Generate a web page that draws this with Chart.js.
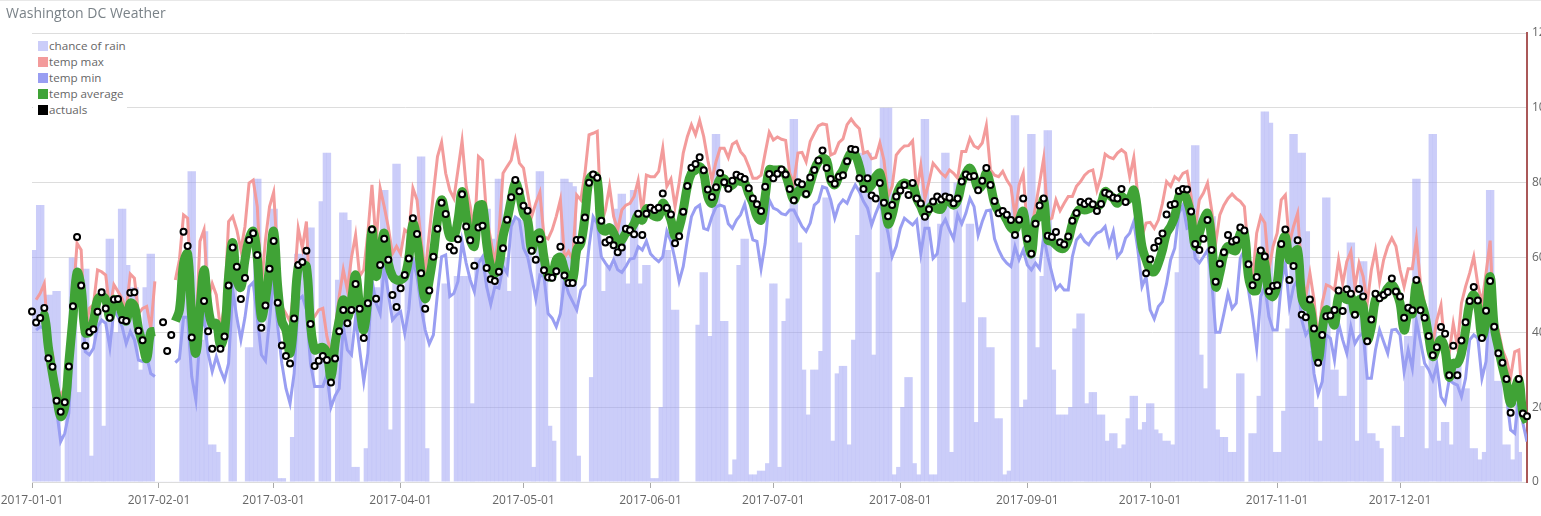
<!DOCTYPE html>
<html>
<head>
<meta charset="utf-8">
<title>Washington DC Weather</title>
<script src="https://cdn.jsdelivr.net/npm/chart.js@4"></script>
<style>
    html, body { margin: 0; padding: 0; background: #fff; overflow: hidden; }
    #wrap { position: relative; width: 1541px; height: 516px; font-family: 'Open Sans', sans-serif; }
    #wrap::before { content: ''; position: absolute; left: 0; right: 0; top: 0; height: 1px; background: #e8e8e8; }
    #title { position: absolute; left: 6px; top: 3px; font-size: 14px; line-height: 20px; color: #7a8288; }
    #legend { position: absolute; left: 33px; top: 38px; width: 94px; height: 80px; background: #fff; padding: 0 0 0 5px; box-sizing: border-box; font-size: 11.65px; color: #666; }
    #legend div { height: 16px; line-height: 16px; white-space: nowrap; }
    #legend span { display: inline-block; width: 10px; height: 10px; margin-right: 1px; vertical-align: -1px; }
    canvas { position: absolute; left: 0; top: 0; }
</style>
</head>
<body>
<div id="wrap">
    <canvas id="weatherChart" width="1541" height="516"></canvas>
    <div id="title">Washington DC Weather</div>
    <div id="legend"></div>
</div>
<script>
// Daily values from 2017-01-01, one entry per day
const rain = [
    62,74,74,50,50,51,51,0,28,60, 60,24,57,57,7,45,45,15,65,65,
    40,73,73,58,52,52,30,52,61,61, 0,0,0,0,0,0,52,52,83,83,
    50,38,67,10,10,8,0,0,53,60, 0,0,36,36,81,81,40,50,73,73,
    1,1,0,12,61,61,61,68,68,0, 75,88,88,0,54,72,72,70,4,4,
    0,9,50,52,52,78,78,14,85,85, 0,60,60,60,87,87,9,0,0,0,
    53,53,0,55,55,55,55,21,60,60, 60,73,65,81,81,60,51,70,70,70,
    70,70,4,83,83,55,15,11,0,81, 81,80,79,7,0,0,28,70,70,51,
    58,58,73,77,77,53,78,78,53,58, 58,1,1,20,62,62,46,46,0,0,
    0,0,42,56,56,39,93,93,43,43, 2,6,58,65,65,2,2,3,3,5,
    53,53,4,43,49,97,97,64,30,18, 30,30,35,76,76,11,29,31,31,10,
    38,66,88,88,88,34,56,100,100,100, 2,4,20,28,28,5,2,97,97,2,
    2,69,88,88,8,80,80,48,69,69, 16,44,44,36,36,17,17,2,3,98,
    98,20,22,93,93,36,55,94,94,30, 18,18,18,20,41,45,45,21,24,24,
    18,18,11,13,13,9,10,17,23,23, 14,16,21,21,14,13,11,11,10,56,
    74,74,74,90,90,34,25,71,71,14, 12,12,8,8,29,29,0,13,13,23,
    99,99,96,8,8,19,41,93,93,88, 88,67,35,20,11,76,76,30,30,23,
    23,64,64,11,59,59,13,13,11,9, 0,0,15,15,12,39,39,81,81,31,
    9,93,93,11,16,16,10,32,32,25, 25,9,9,6,8,78,78,27,27,10,
    10,6,21,8,8,8
];

const tempMax = [
    null,48.7,50.4,53,37,34.4,26,22.8,25.5,37, 48.7,63.8,62,39.8,46.4,47.3,56.7,56.2,55.3,46,
    52.7,50.9,49,46,55.6,54.5,45,46.4,46.9,41, 53.6,null,null,null,null,54,59.4,71.4,70.5,48.7,
    39.8,64.3,67.4,48.7,53,50,41,47,69.6,71, 67.4,62,68.3,79.9,80.7,73.6,52.2,64.7,73.6,77.4,
    59.4,46.9,45,42.9,52,67.8,62.5,69.6,43.3,44.2, 46,46.4,38.9,34.4,40.6,49.6,56.7,51.3,60,66,
    55,56.7,66.5,79.4,63.8,78.5,73.6,68,61,63, 61,67.4,66.5,78.5,75.4,64.7,55.8,66.5,77.2,87,
    90.8,82.5,78,75.8,83.4,91.2,79,73.6,65.6,87, 86,71,64.7,58.5,66.5,82.5,84.3,86,91.3,85.2,
    83.9,77.2,71,74.5,77.4,65.6,65,67.4,71,75.4, 60,61.6,59.4,76.7,75.4,82.5,92.8,93.2,93.7,69,
    72.7,79,71,67.4,72.7,74,74.5,76.3,80.6,71.8, 82,81.6,81.6,83,89.2,79,81,73.6,79.9,87.9,
    92.3,95.5,92.8,96.6,92.3,86,80.7,85.6,89.2,89.2, 86.7,90.3,91,88.3,87,84.3,81.2,81.2,82,87.9,
    93.5,91.4,92.2,91.6,91.3,82.5,79.9,87.9,88.1,85.6, 91,93.2,95.2,95.7,95.5,87.4,87.9,90.7,91.7,95.5,
    97,95.5,94.4,87.9,88.3,86.4,86.7,90.6,86,76.3, 79,87.4,88.8,89.8,89.9,91.2,77.6,84.6,75.8,80.3,
    85.2,83.9,82.5,81.6,83.4,82.5,81.2,88.3,88.3,91.9, 89.8,89.2,90.6,95.3,83.4,82,81.6,83,80.7,79,
    71,79.4,82.5,67.4,67.4,73.6,79.9,86.5,70,70.5, 75.4,72.5,74.5,76.3,76.3,79,80.3,82,83,83.4,
    78,81.6,87.6,86.8,86.4,87.9,88.8,87.9,81.6,86.7, 76.3,65.6,69.2,69.4,67.8,70,74.5,80.3,79,81.6,
    80.7,82.5,83,76.3,67.8,75.4,77.2,79.9,72.7,63.8, 71.4,74,75.8,77,75.8,75,73.6,61,54,66.5,
    71,69.2,56.7,63,66.5,75.4,76.7,63.8,68.3,71.8, 55.8,49.6,55.8,48.7,38,47.8,52.7,52.2,51.3,59.4,
    53,58.9,61.6,52.2,58.5,54.9,47.8,56.7,61.9,53.6, 59.4,63,65.2,63,56.7,52.2,57,57,65,53,
    47.8,38.9,37,43.3,47.3,35.3,34.4,42.4,36.2,47.8, 52.2,55.8,60.2,52.7,47.8,55.8,64.5,40.6,40.6,35.3,
    32.6,28,34.8,35.3,19.3,17.5
];

const tempMin = [
    null,40.6,41.5,41,34.4,28,19.3,10.8,13,18.4, 39.7,55,49.6,34.8,34,35.7,41.5,43.3,42.4,36,
    46,44.2,41.5,37,40.2,38,32.6,32.2,33.5,29, 28.2,null,null,null,null,31.9,33,44,44,28.2,
    22,39.7,44,34.4,29.5,33.5,30,27.3,31.7,51.3, 44,38,44,52.2,53.3,44,34,32.4,43.3,55,
    41.5,31.7,25,21,29,48.7,49.6,46,31.7,25.5, 25.5,25.5,28.6,20,23,25,41.5,35.3,34,44,
    35.3,26.8,34.4,54,47.8,45,57.6,50.4,43.3,44.6, 45.5,39.7,46,59.4,55,46.9,40.6,36.9,39.3,50.4,
    60.2,60.7,49.6,50.4,53.6,64.3,58.5,54,50.9,58.5, 60.2,52.2,47.5,52.2,51.8,57.6,55.8,68.3,70.8,70,
    62.5,60.2,54.9,49,55.3,54.9,45,43.8,41.5,45, 54,50.4,48.2,46,51.3,52.7,62.9,70.9,69,60.2,
    58.5,57,59.4,56.7,56,57.6,59.6,59.8,62.9,62, 64.4,61,59.8,58.9,60.2,67,64.3,59.4,53.6,57.6,
    64.7,70.9,73.2,74,67.8,67.4,70.9,73.5,74,73.6, 69,67.8,70,71.4,74.3,69,64.7,64.3,57,63.8,
    75.4,73.2,72.7,71.7,71.4,72.7,72.7,70.5,68.3,67, 69.2,74,75,78.9,78.5,75.4,70.5,74,75.4,74.5,
    77.2,79.4,77.6,75,73.2,68.7,71.8,74.5,71,66.5, 60.2,63,67.8,70.5,69.6,68.7,70,61,67.8,67.8,
    59.8,61,68.3,70.2,67.4,65,71.4,69,71.8,75.8, 73.6,66,69.6,72.5,72.7,65,62,59.8,58.5,57.6,
    62.9,59.4,62,58,56.7,58.5,57,65.6,60.2,55.8, 51.5,52.7,51.3,51.3,60.2,64.7,66,64.3,63.4,65.2,
    66.5,67,68.3,63.4,67,60.2,61.6,65.2,66.5,69.6, 62,52.2,54.9,46,43.6,46.9,48.2,53,59.4,62.5,
    71.8,74,67.8,68.3,59.8,58.6,60.2,62,54,40, 40,45,50.4,46.4,47.8,59.8,62,51.3,44.2,35.7,
    49.6,52.2,44.2,40.6,40.6,53,58.5,46.9,52.2,54, 43.3,39.3,41,29,23.5,26.8,39.3,38.4,32.6,42.4,
    38,34.4,41.5,37,38.9,39.8,27.7,27.7,35.3,40.6, 37.5,34.4,40.6,40.8,39.3,29.5,35.3,30.4,42.9,37.5,
    31.7,30,27.3,31.3,22.8,21,27.3,26.4,25.9,22.8, 27.7,38,39.3,38.4,27.7,32.2,50,40.6,34.4,30.8,
    22.8,13.9,13,22.8,15.7,10.8
];

const tempAvg = [
    null,null,45,44.6,36,29,23,17.5,20,32, 44,56,52,40,40,43,48.7,49.5,48.7,44,
    48.7,47.8,45,43,47.8,47,41,37,33,40, 40.2,null,null,null,null,43,46,58.5,61,44,
    34.4,46,56.7,46.9,42,42.4,36.6,39.8,55,64, 54,52,59.4,65,67,60,44,48.7,57.6,67,
    52,43,40.6,34.4,44,57.6,58,57.6,42.4,35.3, 35.7,36,34.4,28,37,43.3,48.7,44,48.7,55.3,
    46.9,40.6,49.5,67.4,55,61,66.5,58.5,55,54, 54,55,60,69,64.7,55.8,49,54,61,70,
    75.4,71,65.6,65.6,70,77.6,71,64.7,63,73.6, 74,63.8,57.6,55.8,57.6,65.6,70,75.4,79.9,77,
    71.8,70,62,65.6,66.5,60,55,55,59.4,60, 56.7,54,54,62,63.8,71,80.7,82,81,68,
    67,68,66.5,63.8,64.7,66.5,67.3,69,71.4,70, 73,71.8,71,71,74.5,72.7,70,65.6,68,72.7,
    79,82.5,83.4,84.3,82.5,76.3,74.5,78,81,81, 79,79.4,80.7,80.3,79.9,77,74.5,71,70,76.3,
    83.4,83.4,83.4,83.4,82,78.5,75.4,77.6,78.5,77, 79.9,83.4,85.6,86.5,86,80.7,79.4,81.6,83.4,86,
    87.9,87.4,84.3,79.9,78.5,79.4,81.6,82.5,76.3,69, 71.4,76.3,79,79.9,79.4,79.4,75.8,73.6,71.4,73,
    74,73,73,75.4,75,74,75.4,79.9,82.5,83.9, 81.6,78.5,79.4,82.5,79.4,74.5,72.3,71.8,70,68,
    67.4,70,72.3,64.7,61,70,71,75.4,64.7,64.3, 63.4,62.5,62.5,64.7,69,71.8,73,72.7,73,73.6,
    73.6,74.5,77.6,76.7,75.8,74.5,76.3,75.4,75.8,78, 71.8,62.9,59.4,56.7,56.2,58.5,62,66.5,68.3,71,
    76.3,77.2,75.4,71,63,66.5,70,71.8,64.7,52.2, 55.8,61,63,62,62,66.5,66.5,54.9,51.3,51.3,
    61,58.5,50.4,49.6,53,63,65.6,59.4,61,62, 49.6,46.9,46.9,38.9,32.6,40.6,46,44.2,42,49.6,
    49.6,48.7,49.6,45,48.7,46.9,38,41.5,48.7,49.6, 50,51.8,52.7,51,47.8,40.6,45,45,53,48.7,
    45,38.9,33.5,36,38,35.3,28,31.7,31.7,34.4, 40.6,47.8,50,46.9,38.9,43.3,54.9,41.5,36,30.8,
    26.4,21,24.6,27.3,18.4,16
];

const actuals = [
    45.6,42.6,43.8,46.5,33.1,30.8,21.7,18.8,21.3,30.9, 47,65.5,52.5,36.4,40.1,40.8,45.5,50.7,46.4,43.9,
    48.8,48.9,43.3,43,50.6,50.7,40.4,37.9,null,null, null,null,42.7,35,39.3,null,null,66.9,63.1,38.6,
    null,null,48.4,40.3,35.6,null,35.6,38.9,52.5,62.7, 57.5,48.9,54.5,64.7,66.5,60.7,41.2,47.2,57,64.4,
    47.9,36.5,33.7,31.7,43.7,58,58.8,61.8,42.2,31, 32.4,33.7,32.6,26.6,33,40.3,46,42.4,46,52.9,
    46.3,38.5,47.8,67.5,49,58,65,59.4,50,46.8, 51.8,55.3,59.7,70.5,66.3,55.8,46.3,51.2,60.2,67.7,
    74.6,71.6,62.9,61.9,64.9,76.9,68.3,64.6,57.8,68, 68.5,57.2,54.2,53.7,56.2,62.5,70.1,76.1,80.7,77.7,
    73.8,72.5,61.8,59.4,64.9,56.6,54.7,54.6,56.3,62.9, 55.2,53.2,53.2,64.7,64.7,70.7,80,82.2,81.3,69.8,
    64,64.7,63.3,61.4,62.7,67.7,67.3,66.2,71.7,66, 71.7,73.3,72.7,73.3,77.1,73.2,71.5,63.8,65.7,72.2,
    79.1,84,85,86.8,83.3,78.2,76.2,78.8,82.6,80.1, 78.4,80.5,82.1,81.6,81,78.5,75.8,74.2,72.4,78.9,
    82.3,81.2,82.4,83.5,82.2,78.3,75.3,80.1,79.6,77, 81.4,83.4,85.9,88.6,83.9,81,79.7,81.6,82,85.7,
    89,88.8,81.2,78.3,81.2,76.6,75.8,79.9,74.6,71, 74,76.3,77.9,79.4,76.7,79.9,75.8,74.4,70.9,72.9,
    75,76.3,75.5,76.3,76,74.5,75.8,80.3,82.2,81.6, 81.8,78,80.5,83.9,79.4,75.1,71.8,72.4,71.4,70,
    66,70.1,75.8,65,61,69,73.9,75.8,65.8,65.5, 66.8,64.1,63.5,65.6,69.8,71.9,74.8,74.3,75,74.2,
    72.4,74.3,77.3,76.9,76,75.8,78.3,74.8,null,null, null,null,55.8,59.5,62.6,64.4,66.4,71.5,74,74.3,
    77.8,78.3,78.2,72.3,63.6,62,65,70,62,53.5, 58.3,61.4,66,64.3,64.7,68,67.2,58.2,52.6,54.8,
    61.9,60.3,51,52.4,52.6,63.6,67.5,54,57.7,64.6, 44.7,44,48.8,41,31.9,39.3,44.3,44.5,46,51.2,
    45.7,51.5,50.3,44.7,51.6,49.6,37.6,43.4,50.3,49.1, 50,50.8,54.4,50.9,49.6,43.9,46.6,45.9,54,45.9,
    43.9,39,33.9,36,41.4,39.6,28.5,36.4,28.5,37.8, 42.7,48.4,52.1,48.5,38.5,45.8,53.7,41.5,34.4,31.9,
    27.5,18.5,null,27.5,18.3,17.6
];

// Day number of each month start, these get the axis labels
const monthStarts = [0, 31, 59, 90, 120, 151, 181, 212, 243, 273, 304, 334];

function formatDay(day) {
    return new Date(Date.UTC(2017, 0, 1 + day)).toISOString().slice(0, 10);
}

function toPoints(values, shift = 0) {
    return values.map((value, day) => ({ x: day + shift, y: value }));
}

const ctx = document.getElementById('weatherChart').getContext('2d');
const chart = new Chart(ctx, {
    data: {
        datasets: [
            {
                type: 'bar',
                label: 'chance of rain',
                data: toPoints(rain, 0.5),
                backgroundColor: 'rgba(152,156,243,0.5)',
                swatch: 'rgb(203,205,249)',
                barPercentage: 1,
                categoryPercentage: 1,
                inflateAmount: 0.1,
                clip: { left: 0, top: 0, right: -5, bottom: 0 },
                order: 5
            },
            {
                type: 'line',
                label: 'temp max',
                data: toPoints(tempMax),
                borderColor: 'rgb(243,155,155)',
                swatch: 'rgb(243,155,155)',
                borderWidth: 3,
                pointRadius: 0,
                tension: 0,
                order: 4
            },
            {
                type: 'line',
                label: 'temp min',
                data: toPoints(tempMin),
                borderColor: 'rgb(153,158,242)',
                swatch: 'rgb(153,158,242)',
                borderWidth: 3,
                pointRadius: 0,
                tension: 0,
                order: 3
            },
            {
                type: 'line',
                label: 'temp average',
                data: toPoints(tempAvg),
                borderColor: 'rgb(64,163,54)',
                swatch: 'rgb(64,163,54)',
                borderWidth: 9,
                borderJoinStyle: 'round',
                pointRadius: 0,
                tension: 0.4,
                order: 2
            },
            {
                type: 'line',
                label: 'actuals',
                data: toPoints(actuals),
                showLine: false,
                swatch: '#000',
                pointRadius: 3,
                pointBorderWidth: 2,
                pointBorderColor: '#000',
                pointBackgroundColor: '#fff',
                clip: false,
                order: 1
            }
        ]
    },
    options: {
        responsive: false,
        animation: false,
        parsing: { xAxisKey: 'x', yAxisKey: 'y' },
        layout: { padding: { left: 32, top: 33, right: 0, bottom: 0 } },
        plugins: {
            legend: { display: false },
            tooltip: { enabled: false }
        },
        scales: {
            x: {
                type: 'linear',
                min: 0,
                max: 365,
                offset: false,
                border: { display: false },
                grid: { offset: false, drawOnChartArea: false, drawTicks: true, tickLength: 6, color: '#aaa' },
                afterBuildTicks: axis => {
                    axis.ticks = monthStarts.map(day => ({ value: day }));
                },
                afterFit: axis => {
                    // The label padding would push the plot to the right
                    axis.height = 34;
                    axis.paddingLeft = 0;
                    axis.paddingRight = 0;
                },
                ticks: {
                    autoSkip: false,
                    maxRotation: 0,
                    padding: 5,
                    color: '#666',
                    font: { family: 'Open Sans', size: 12 },
                    callback: value => formatDay(value)
                }
            },
            y: {
                position: 'right',
                min: 0,
                max: 120,
                border: { display: true, color: 'rgb(170,88,88)', width: 2 },
                grid: { color: '#ddd', drawTicks: false },
                afterFit: axis => { axis.width = 14; },
                ticks: {
                    stepSize: 20,
                    padding: 5,
                    color: '#666',
                    font: { family: 'Open Sans', size: 12 }
                }
            }
        }
    }
});

// Legend sits over the plot, same as the original
const legend = document.getElementById('legend');
chart.data.datasets.forEach(dataset => {
    const row = document.createElement('div');
    const box = document.createElement('span');
    box.style.background = dataset.swatch;
    row.appendChild(box);
    row.appendChild(document.createTextNode(dataset.label));
    legend.appendChild(row);
});
</script>
</body>
</html>
